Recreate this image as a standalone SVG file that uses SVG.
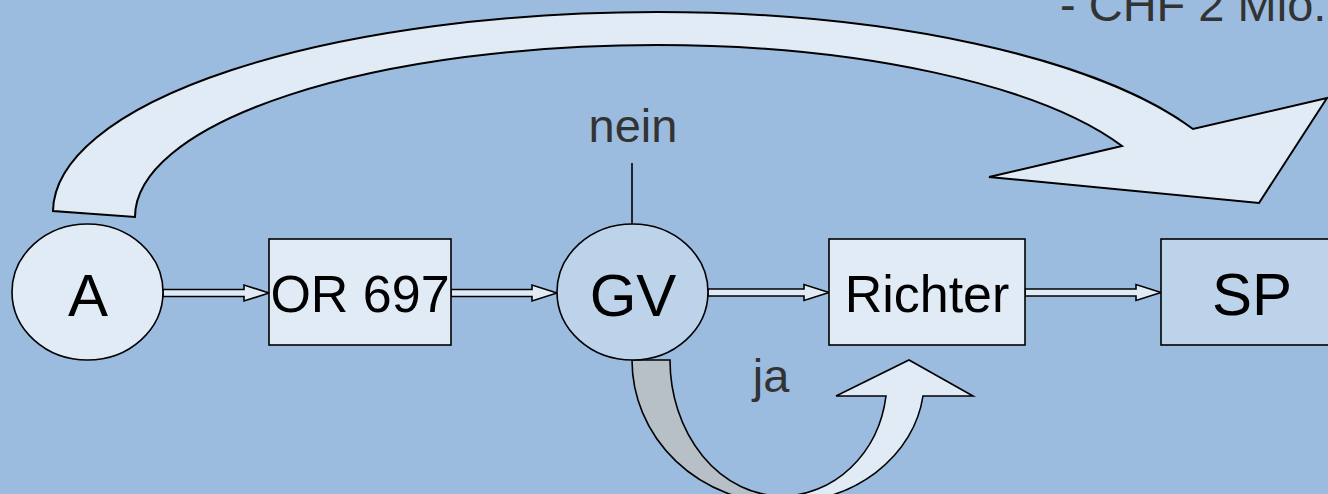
<svg xmlns="http://www.w3.org/2000/svg" width="1328" height="494" viewBox="0 0 1328 494">
<style>
.light{fill:#e0ebf6;stroke:#000;stroke-width:1.6}
.mid{fill:#bdd3ea;stroke:#000;stroke-width:1.6}
.big{fill:#e1ebf5;stroke:#000;stroke-width:2;stroke-linejoin:miter}
.gray{fill:#b7bfc7;stroke:#000;stroke-width:1.6}
.lbl{font-family:"Liberation Sans",Arial,sans-serif;fill:#000;text-anchor:middle}
.note{font-family:"Liberation Sans",Arial,sans-serif;fill:#333;font-size:47px}
</style>
<rect x="0" y="0" width="1328" height="494" fill="#9bbcdf"/>
<text class="note" x="1060" y="21">- CHF 2 Mio.</text>
<g id="connectors">
<path class="big" d="M53,211 A604 200 0 0 1 657,12 A589 200 0 0 1 1193,129 L1327,98 L1259,203 L989,177 L1122,146 A510 172 0 0 0 657,45 A522 172 0 0 0 135,217 Z"/>
<line x1="632" y1="163" x2="632" y2="224" stroke="#000" stroke-width="1.6"/>
<polygon class="light" points="163,289.5 244,289.5 244,285 269,293 244,301 244,296.5 163,296.5"/>
<polygon class="light" points="451,289.5 532,289.5 532,285 557,293 532,301 532,296.5 451,296.5"/>
<polygon class="light" points="708,289 804,289 804,284.5 829,292.5 804,300.5 804,296 708,296"/>
<polygon class="light" points="1025,289 1136,289 1136,284.5 1161,292.5 1136,300.5 1136,296 1025,296"/>
<path class="gray" d="M632,360 L670,360 A112 136 0 0 0 782,496 L782,503 A150 143 0 0 1 632,360 Z"/>
<path class="big" style="stroke-width:1.6" d="M782,496 A105 116 0 0 0 886,396 L836,396 L909,360 L973,396 L923,396 A142 123 0 0 1 782,503 Z"/>
</g>
<g id="node-A">
<ellipse class="light" cx="87.5" cy="292" rx="75.5" ry="68"/>
<text class="lbl" x="88" y="316" font-size="60">A</text>
</g>
<g id="node-OR697">
<rect class="light" x="269" y="239" width="182" height="106"/>
<text class="lbl" x="360" y="312" font-size="52">OR 697</text>
</g>
<g id="node-GV">
<ellipse class="mid" cx="632.5" cy="292" rx="75.5" ry="68"/>
<text class="lbl" x="633" y="316" font-size="60">GV</text>
</g>
<g id="node-Richter">
<rect class="light" x="829" y="239" width="196" height="106"/>
<text class="lbl" x="927" y="312" font-size="52">Richter</text>
</g>
<g id="node-SP">
<rect class="mid" x="1161" y="239" width="182" height="106"/>
<text class="lbl" x="1252" y="315" font-size="60">SP</text>
</g>
<text class="note" x="633" y="142" text-anchor="middle">nein</text>
<text class="note" x="771" y="392" text-anchor="middle">ja</text>
</svg>
